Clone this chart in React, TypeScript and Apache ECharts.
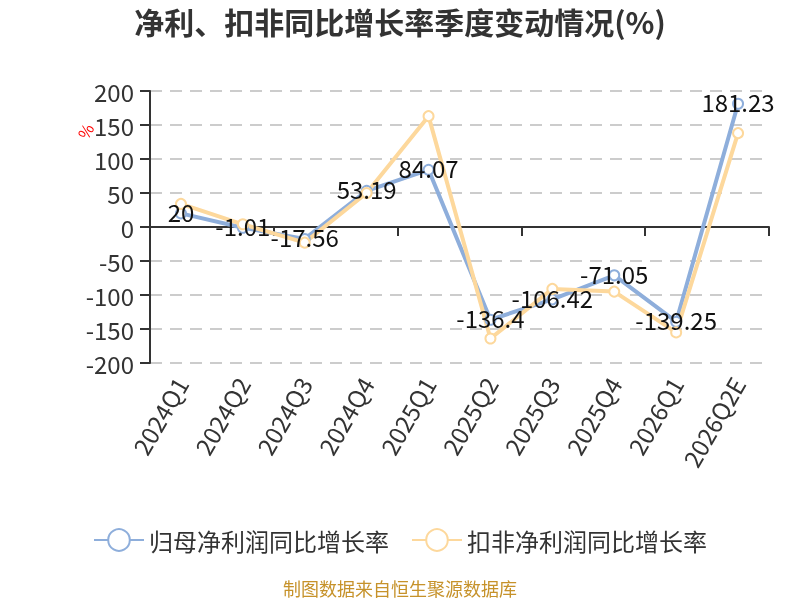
import React, { useEffect, useRef } from "react";
import * as echarts from "echarts";

const categories = ["2024Q1", "2024Q2", "2024Q3", "2024Q4", "2025Q1", "2025Q2", "2025Q3", "2025Q4", "2026Q1", "2026Q2E"];
const netProfitGrowth = [20, -1.01, -17.56, 53.19, 84.07, -136.4, -106.42, -71.05, -139.25, 181.23];
const deductedGrowth = [34, 4, -23, 50, 163, -164, -91, -95, -155, 138];
const seriesNames = ["归母净利润同比增长率", "扣非净利润同比增长率"];
const titleText = "净利、扣非同比增长率季度变动情况(%)";
const sourceText = "制图数据来自恒生聚源数据库";

const FONT = "'Microsoft YaHei', 'Noto Sans CJK SC', sans-serif";

export default function App() {
  const ref = useRef<HTMLDivElement>(null);
  useEffect(() => {
    if (!ref.current) return;
    const chart = echarts.init(ref.current, undefined, { renderer: "svg" });
    chart.setOption({
      animation: false,
      textStyle: { fontFamily: FONT },
      title: {
        text: titleText,
        left: "center",
        top: 1,
        textStyle: { fontSize: 30, fontWeight: "bold", color: "#333", fontFamily: FONT },
      },
      legend: {
        top: 523,
        left: "center",
        itemWidth: 50,
        itemHeight: 27,
        itemGap: 22,
        textStyle: { fontSize: 24, color: "#333", fontFamily: FONT },
        data: seriesNames,
      },
      grid: { left: 150, right: 31, top: 91, bottom: 237, containLabel: false },
      xAxis: [
        {
          type: "category",
          data: categories,
          position: "bottom",
          axisLine: { show: false, onZero: false },
          axisTick: { show: false },
          axisLabel: { rotate: 60, fontSize: 24, color: "#333", margin: 16, interval: 0, fontFamily: FONT },
        },
        {
          type: "category",
          data: categories,
          position: "bottom",
          axisLine: { show: true, onZero: true, lineStyle: { color: "#333", width: 2 } },
          axisTick: { show: true, length: 9, lineStyle: { color: "#333", width: 2 } },
          axisLabel: { show: false },
        },
      ],
      yAxis: {
        type: "value",
        min: -200,
        max: 200,
        interval: 50,
        axisLine: { show: true, lineStyle: { color: "#333", width: 2 } },
        axisTick: { show: true, length: 10, lineStyle: { color: "#333", width: 2 } },
        axisLabel: { fontSize: 24, color: "#333", margin: 16, fontFamily: FONT },
        splitLine: { show: true, lineStyle: { color: "#ccc", type: [12, 8], width: 2 } },
      },
      graphic: [
        {
          type: "text",
          x: 85,
          y: 131,
          rotation: Math.PI / 3,
          style: {
            text: "%",
            fill: "#ff0000",
            fontSize: 16,
            fontFamily: FONT,
            align: "center",
            verticalAlign: "middle",
          },
        },
        {
          type: "text",
          left: "center",
          top: 579,
          style: { text: sourceText, fill: "#c6922a", fontSize: 18, fontFamily: FONT },
        },
      ],
      series: [
        {
          name: seriesNames[0],
          type: "line",
          data: netProfitGrowth,
          symbol: "emptyCircle",
          symbolSize: 10,
          lineStyle: { color: "#8eaedb", width: 4 },
          itemStyle: { color: "#8eaedb", borderWidth: 2 },
          label: {
            show: true,
            position: "inside",
            offset: [0, -2],
            fontSize: 24,
            color: "#111",
            fontFamily: FONT,
          },
        },
        {
          name: seriesNames[1],
          type: "line",
          data: deductedGrowth,
          symbol: "emptyCircle",
          symbolSize: 10,
          lineStyle: { color: "#fdd89c", width: 4 },
          itemStyle: { color: "#fdd89c", borderWidth: 2 },
          label: { show: false },
        },
      ],
    });
    return () => chart.dispose();
  }, []);
  return <div ref={ref} style={{ position: "fixed", left: 0, top: 0, width: 800, height: 600 }} />;
}
